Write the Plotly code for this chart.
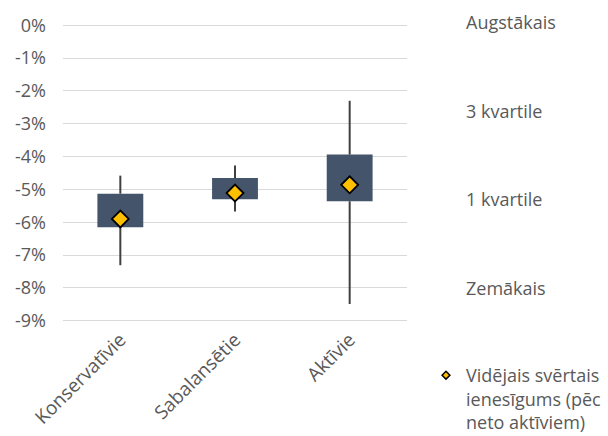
import plotly.graph_objects as go

categories = ["Konservatīvie", "Sabalansētie", "Aktīvie"]
high = [-0.0458, -0.0427, -0.0230]
q3 = [-0.0513, -0.0465, -0.0394]
q1 = [-0.0615, -0.0530, -0.0536]
low = [-0.0731, -0.0567, -0.0849]
mean = [-0.0590, -0.0511, -0.0486]

tick_vals = [0, -0.01, -0.02, -0.03, -0.04, -0.05, -0.06, -0.07, -0.08, -0.09]
tick_text = ["0%", "-1%", "-2%", "-3%", "-4%", "-5%", "-6%", "-7%", "-8%", "-9%"]

side_labels = ["Augstākais", "3 kvartile", "1 kvartile", "Zemākais"]
mean_label = "Vidējais svērtais<br>ienesīgums (pēc<br>neto aktīviem)"

FONT = "Open Sans"
TXT = "#595959"
BOX = "#44546A"
WHISK = "#404040"
GOLD = "#FFC000"

fig = go.Figure()

# whiskers (outside the box)
wx, wy = [], []
for c, h, a, b, l in zip(categories, high, q3, q1, low):
    wx += [c, c, None, c, c, None]
    wy += [h, a, None, b, l, None]
fig.add_trace(go.Scatter(x=wx, y=wy, mode="lines",
                         line=dict(color=WHISK, width=2),
                         showlegend=False, hoverinfo="skip"))

# boxes
fig.add_trace(go.Bar(x=categories, base=q1,
                     y=[a - b for a, b in zip(q3, q1)],
                     width=0.4, marker=dict(color=BOX, line=dict(width=0)),
                     showlegend=False))

# mean markers
fig.add_trace(go.Scatter(x=categories, y=mean, mode="markers",
                         marker=dict(symbol="diamond", size=13, color=GOLD,
                                     line=dict(color="black", width=1.8)),
                         showlegend=False))
# legend entry
fig.add_trace(go.Scatter(x=[None], y=[None], mode="markers", name=mean_label,
                         marker=dict(symbol="diamond", size=6, color=GOLD,
                                     line=dict(color="black", width=1.5)),
                         showlegend=True))

L, R, T, B = 63, 201, 22, 112
W, H = 608, 436
pw, ph = W - L - R, H - T - B

for i, lab in enumerate(side_labels):
    ypix = 22 + i * 88.5
    fig.add_annotation(text=lab, xref="paper", yref="paper",
                       x=(464 - L) / pw, y=(H - B - ypix) / ph,
                       xanchor="left", yanchor="middle", showarrow=False,
                       font=dict(family=FONT, size=18, color=TXT))

fig.update_layout(
    width=W, height=H,
    margin=dict(l=L, r=R, t=T, b=B, autoexpand=False),
    paper_bgcolor="white", plot_bgcolor="white",
    barmode="overlay",
    font=dict(family=FONT, size=18, color=TXT),
    showlegend=True,
    legend=dict(x=(426 - L) / pw, y=(H - B - 357) / ph, xanchor="left", yanchor="top",
                valign="top", bgcolor="rgba(0,0,0,0)", tracegroupgap=0,
                font=dict(family=FONT, size=18, color=TXT)),
    xaxis=dict(type="category", range=[-0.5, 2.5], tickangle=-45,
               showgrid=False, showline=False, ticks="", automargin=False,
               tickfont=dict(family=FONT, size=19, color=TXT)),
    yaxis=dict(range=[-0.091, 0.001], tickvals=tick_vals, ticktext=tick_text,
               showgrid=True, gridcolor="#D9D9D9", gridwidth=1.3,
               zeroline=False, showline=False, ticks="", automargin=False,
               ticklabelstandoff=16,
               tickfont=dict(family=FONT, size=18, color=TXT)),
)

fig.write_html("out.html", config={"displayModeBar": False},
               post_script="document.body.style.margin='0';")
